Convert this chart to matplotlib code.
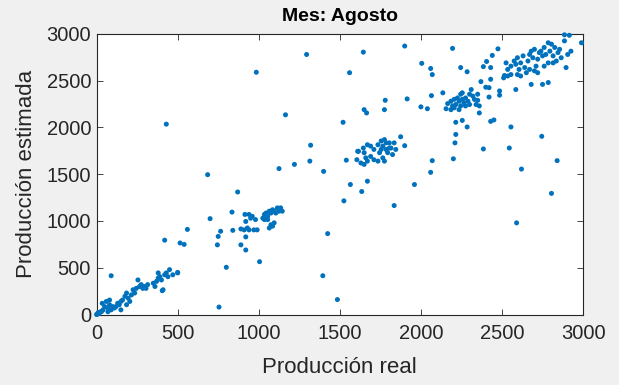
import matplotlib
matplotlib.use("Agg")
import matplotlib.pyplot as plt

plt.rcParams["font.family"] = ["Liberation Sans", "DejaVu Sans"]

# Low production group (0 - 500)
real_low = [0, 5, 15, 25, 10, 60, 50, 80, 100, 120, 140, 150, 70, 110, 130, 160, 175, 195,
            185, 215, 235, 225, 245, 265, 255, 275, 295, 305, 315, 285, 360, 370, 380, 390,
            400, 410, 420, 430, 440, 450, 470, 500, 380, 350, 30, 40, 90, 150, 70, 185,
            205, 80, 35, 90, 405, 500]
est_low = [0, 5, 10, 30, 20, 140, 85, 105, 85, 85, 105, 140, 70, 70, 120, 155, 195, 175,
           230, 210, 230, 265, 280, 300, 370, 320, 300, 280, 320, 280, 300, 355, 390, 405,
           370, 265, 425, 445, 405, 480, 425, 445, 445, 335, 30, 50, 50, 50, 30, 105,
           140, 155, 120, 415, 255, 450]

# Middle group (500 - 1500)
real_mid = [420, 515, 540, 560, 685, 700, 745, 750, 765, 800, 835, 840, 870, 890, 920, 1005,
            755, 915, 940, 950, 920, 910, 890, 930, 940, 920, 960, 980, 990, 970,
            1025, 1035, 1045, 1055, 1065, 1075, 1085, 1095, 1105, 1115, 1135, 1145, 1125,
            1035, 1055, 1075, 1065, 1085, 1095, 1045, 1125, 1220, 1315, 1400, 1425, 1395,
            1485, 430, 985, 1295, 1165, 1320]
est_mid = [795, 765, 750, 910, 1495, 1025, 745, 835, 890, 505, 1095, 900, 1310, 745, 690, 565,
           80, 1070, 1070, 1030, 995, 905, 915, 925, 905, 830, 1050, 1015, 905, 905,
           1030, 1070, 1085, 1050, 1105, 1085, 1120, 1105, 1085, 1140, 1140, 1105, 1105,
           1015, 1015, 960, 925, 945, 980, 1050, 1560, 1605, 1640, 1530, 865, 415,
           160, 2035, 2590, 2780, 2135, 1810]

# Group around 1700
real_1700 = [1615, 1645, 1670, 1690, 1710, 1735, 1755, 1765, 1775, 1785, 1805, 1815, 1835,
             1845, 1875, 1900, 1650, 1660, 1670, 1690, 1710, 1735, 1765, 1775, 1795, 1825,
             1755, 1745, 1785, 1805, 1650, 1540, 1605, 1610, 1565, 1525, 1635, 1670, 1630,
             1520, 1650, 1665, 1775, 1780, 1645, 1560, 1835, 1960, 2060, 2070, 2000, 2040]
est_1700 = [1745, 1780, 1815, 1800, 1765, 1815, 1855, 1800, 1870, 1835, 1835, 1780, 1835,
            1765, 1900, 1805, 1730, 1675, 1640, 1690, 1655, 1640, 1675, 1640, 1730, 1710,
            1765, 1730, 1765, 1780, 1605, 1650, 1655, 1745, 1390, 1215, 1315, 1425, 1620,
            2055, 2190, 2155, 2190, 2290, 2805, 2585, 1165, 1390, 1520, 1645, 2220, 2200]

# Group around 2200
real_2200 = [2165, 2185, 2205, 2215, 2225, 2235, 2245, 2255, 2265, 2275, 2290, 2300, 2310,
             2320, 2330, 2350, 2340, 2360, 2360, 2185, 2205, 2245, 2275, 2300, 2155, 2350,
             2255, 2235, 2195, 2215, 2215, 2210, 2200, 2255, 2285, 2430, 2450, 2555, 2385,
             2545, 2745, 1900, 2195, 2005, 2060, 2070, 2245, 2285, 1915, 2135, 2065]
est_2200 = [2255, 2280, 2300, 2245, 2315, 2280, 2355, 2300, 2265, 2315, 2280, 2355, 2405,
            2335, 2300, 2355, 2245, 2230, 2155, 2190, 2210, 2230, 2230, 2245, 2200, 2290,
            2370, 2190, 2230, 2055, 1925, 1835, 1665, 2075, 2005, 2065, 2080, 2005, 1770,
            1780, 1905, 2870, 2845, 2685, 2630, 2565, 2640, 2595, 2305, 2370, 2340]

# Upper group (2400 - 3000)
real_high = [2440, 2475, 2385, 2405, 2430, 2370, 2430, 2400, 2420, 2420, 2485, 2485, 2515,
             2510, 2535, 2555, 2575, 2585, 2595, 2605, 2615, 2630, 2640, 2650, 2660, 2670,
             2680, 2690, 2700, 2710, 2720, 2730, 2740, 2750, 2760, 2770, 2785, 2795, 2805,
             2815, 2825, 2835, 2845, 2855, 2865, 2885, 2895, 2905, 2915, 2925, 2990, 2595,
             2615, 2670, 2700, 2720, 2760, 2785, 2750, 2680, 2585, 2525, 2535, 2555, 2785,
             2815, 2885, 2620, 2840, 2805, 2590]
est_high = [2770, 2840, 2650, 2705, 2640, 2490, 2515, 2430, 2425, 2325, 2390, 2345, 2555,
            2530, 2620, 2655, 2710, 2675, 2745, 2620, 2690, 2765, 2640, 2585, 2710, 2780,
            2815, 2745, 2835, 2655, 2730, 2800, 2815, 2765, 2855, 2780, 2905, 2815, 2890,
            2765, 2855, 2710, 2800, 2835, 2745, 2925, 2640, 2780, 2985, 2815, 2905, 2565,
            2550, 2620, 2605, 2585, 2655, 2480, 2460, 2460, 2405, 2690, 2550, 2565, 2690,
            2690, 2990, 1555, 1645, 1295, 980]

real = real_low + real_mid + real_1700 + real_2200 + real_high
estimated = est_low + est_mid + est_1700 + est_2200 + est_high

x_ticks = [0, 500, 1000, 1500, 2000, 2500, 3000]
y_ticks = [0, 500, 1000, 1500, 2000, 2500, 3000]

fig = plt.figure(figsize=(6.19, 3.85), dpi=100, facecolor="#f0f0f0")
ax = fig.add_axes([0.156, 0.183, 0.786, 0.729])

ax.scatter(real, estimated, s=13, color="#0072BD", edgecolors="none", clip_on=False, zorder=3)

ax.set_xlim(0, 3000)
ax.set_ylim(0, 3000)
ax.set_xticks(x_ticks)
ax.set_yticks(y_ticks)
ax.tick_params(direction="in", top=True, right=True, length=4, width=0.6,
               labelsize=14.5, colors="#262626")
ax.tick_params(axis="x", pad=7)
ax.tick_params(axis="y", pad=4)
for side in ax.spines.values():
    side.set_color("#262626")
    side.set_linewidth(0.8)

ax.set_title("Mes: Agosto", fontsize=14, fontweight="bold", pad=9)
ax.set_xlabel("Producción real", fontsize=16, color="#262626", labelpad=10)
ax.set_ylabel("Producción estimada", fontsize=16, color="#262626", labelpad=7)

fig.savefig("out.png", dpi=100, facecolor=fig.get_facecolor())
